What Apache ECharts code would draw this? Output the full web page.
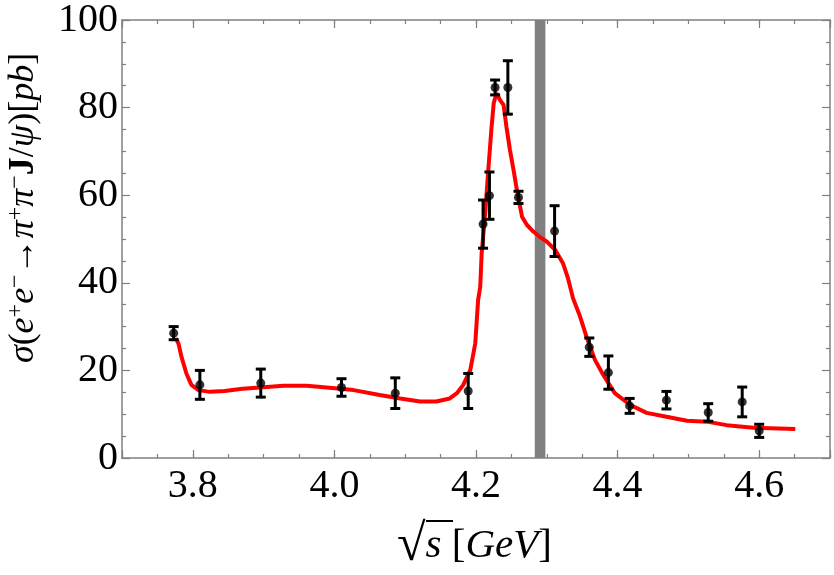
<!DOCTYPE html>
<html>
<head>
<meta charset="utf-8">
<script src="https://cdn.jsdelivr.net/npm/echarts@6/dist/echarts.min.js"></script>
<style>
  html, body { margin: 0; padding: 0; background: #fff; }
  #chart { width: 834px; height: 575px; }
</style>
</head>
<body>
<div id="chart"></div>
<script>
// measured points (sqrt(s) in GeV, sigma in pb, symmetric error)
var energy = [3.773, 3.810, 3.896, 4.010, 4.086, 4.189, 4.210, 4.219, 4.227, 4.245, 4.260, 4.311, 4.360, 4.387, 4.417, 4.469, 4.528, 4.576, 4.600];
var sigma = [28.5, 16.7, 17.1, 16.1, 14.8, 15.3, 53.4, 59.9, 84.6, 84.6, 59.5, 51.8, 25.3, 19.5, 11.9, 13.2, 10.4, 12.8, 6.2];
var sigmaErr = [1.5, 3.3, 3.2, 2.0, 3.5, 4.0, 5.5, 5.4, 1.7, 6.1, 1.4, 5.8, 2.1, 3.8, 1.7, 2.0, 2.0, 3.4, 1.5];

// fit curve
var fitX = [3.776, 3.780, 3.784, 3.791, 3.798, 3.808, 3.824, 3.845, 3.870, 3.895, 3.928, 3.961, 3.989, 4.027, 4.064, 4.093, 4.121, 4.144, 4.163, 4.173, 4.182, 4.192, 4.199, 4.203, 4.206, 4.208, 4.213, 4.217, 4.222, 4.225, 4.229, 4.234, 4.239, 4.243, 4.248, 4.253, 4.257, 4.265, 4.272, 4.281, 4.290, 4.300, 4.312, 4.323, 4.330, 4.337, 4.347, 4.356, 4.368, 4.380, 4.396, 4.418, 4.441, 4.469, 4.498, 4.526, 4.554, 4.592, 4.651];
var fitY = [27.4, 26.0, 23.1, 19.3, 16.7, 15.5, 15.1, 15.3, 15.8, 16.1, 16.5, 16.5, 16.1, 15.5, 14.4, 13.6, 12.9, 12.9, 13.6, 14.8, 16.7, 20.1, 26.2, 36.1, 39.1, 46.7, 55.9, 65.0, 75.6, 81.0, 83.3, 81.7, 80.6, 75.6, 70.3, 65.8, 61.9, 55.1, 53.2, 51.7, 50.5, 49.4, 47.5, 44.4, 41.0, 36.5, 32.3, 27.7, 22.4, 18.9, 14.8, 12.1, 10.3, 9.4, 8.5, 8.3, 7.5, 6.9, 6.6];

// gray vertical band
var band = [4.283, 4.298];

var xRange = [3.7, 4.7];
var yTicks = [0, 20, 40, 60, 80, 100];

var chart = echarts.init(document.getElementById('chart'));

var serif = 'Liberation Serif';
var gray = '#808080';

var pts = energy.map(function (e, i) { return [e, sigma[i]]; });
var bars = energy.map(function (e, i) { return [e, sigma[i] - sigmaErr[i], sigma[i] + sigmaErr[i]]; });
var curve = fitX.map(function (x, i) { return [x, fitY[i]]; });

function xAxisCfg(pos, major, labels) {
    return {
        type: 'value',
        position: pos,
        min: xRange[0],
        max: xRange[1],
        interval: major ? undefined : 0.05,
        splitNumber: 5,
        axisLine: { show: major, lineStyle: { color: gray, width: 1.5 } },
        axisTick: { show: true, inside: true, length: major ? 8 : 4, lineStyle: { color: gray, width: 1.2 } },
        axisLabel: {
            show: labels,
            fontFamily: serif,
            fontSize: 40,
            color: '#000',
            margin: 8,
            formatter: function (v) {
                if (Math.abs(v - xRange[0]) < 1e-6 || Math.abs(v - xRange[1]) < 1e-6) return '';
                return v.toFixed(1);
            }
        },
        splitLine: { show: false }
    };
}

function yAxisCfg(pos, labels) {
    return {
        type: 'value',
        position: pos,
        min: yTicks[0],
        max: yTicks[yTicks.length - 1],
        interval: 20,
        axisLine: { show: true, lineStyle: { color: gray, width: 1.5 } },
        axisTick: { show: true, inside: true, length: 8, lineStyle: { color: gray, width: 1.2 } },
        minorTick: { show: true, splitNumber: 4, length: 4, lineStyle: { color: gray, width: 1.2 } },
        axisLabel: { show: labels, fontFamily: serif, fontSize: 40, color: '#000', margin: 4 },
        splitLine: { show: false },
        minorSplitLine: { show: false }
    };
}

var option = {
    backgroundColor: '#fff',
    animation: false,
    grid: { left: 122, right: 4, top: 20, bottom: 117, containLabel: false },
    xAxis: [
        xAxisCfg('bottom', true, true),
        xAxisCfg('bottom', false, false),
        xAxisCfg('top', true, false),
        xAxisCfg('top', false, false)
    ],
    yAxis: [yAxisCfg('left', true), yAxisCfg('right', false)],
    series: [{
        type: 'line',
        data: curve,
        showSymbol: false,
        lineStyle: { color: '#ff0000', width: 4 },
        z: 2
    }, {
        type: 'custom',
        data: bars,
        z: 3,
        renderItem: function (params, api) {
            var x = api.value(0);
            var lo = api.coord([x, api.value(1)]);
            var hi = api.coord([x, api.value(2)]);
            var w = 5;
            var st = { stroke: '#000', lineWidth: 3 };
            return {
                type: 'group',
                children: [
                    { type: 'line', shape: { x1: lo[0], y1: lo[1], x2: hi[0], y2: hi[1] }, style: st },
                    { type: 'line', shape: { x1: lo[0] - w, y1: lo[1], x2: lo[0] + w, y2: lo[1] }, style: st },
                    { type: 'line', shape: { x1: hi[0] - w, y1: hi[1], x2: hi[0] + w, y2: hi[1] }, style: st }
                ]
            };
        },
        markArea: {
            silent: true,
            itemStyle: { color: gray, opacity: 1 },
            data: [[{ xAxis: band[0], yAxis: 0 }, { xAxis: band[1], yAxis: 100 }]]
        }
    }, {
        type: 'scatter',
        data: pts,
        symbol: 'circle',
        symbolSize: 9,
        itemStyle: { color: '#000' },
        z: 4
    }],
    graphic: [{
        type: 'text',
        x: 24,
        y: 208,
        rotation: Math.PI / 2,
        style: {
            text: '{it|σ}{n|(}{it|e}{sup|+}{it|e}{sup|−}{n|→}{it|π}{sup|+}{it|π}{sup|−}{b|J}{n|/}{it|ψ}{n|)[}{it|pb}{n|]}',
            align: 'center',
            verticalAlign: 'middle',
            fill: '#000',
            rich: {
                n: { fontFamily: serif, fontSize: 36, lineHeight: 41, fill: '#000' },
                it: { fontFamily: serif, fontSize: 36, fontStyle: 'italic', lineHeight: 41, fill: '#000' },
                b: { fontFamily: serif, fontSize: 36, fontWeight: 'bold', lineHeight: 41, fill: '#000' },
                sup: { fontFamily: serif, fontSize: 24, lineHeight: 24, verticalAlign: 'top', fill: '#000' }
            }
        }
    }, {
        type: 'text',
        x: 397,
        y: 546,
        style: {
            text: '{r|√}{it|s}{n| [}{it|GeV}{n|]}',
            align: 'left',
            verticalAlign: 'middle',
            rich: {
                r: { fontFamily: serif, fontSize: 52, fill: '#000' },
                n: { fontFamily: serif, fontSize: 41, fill: '#000' },
                it: { fontFamily: serif, fontSize: 41, fontStyle: 'italic', fill: '#000' }
            }
        }
    }, {
        type: 'line',
        shape: { x1: 426, y1: 521, x2: 453, y2: 521 },
        style: { stroke: '#000', lineWidth: 2 }
    }]
};

chart.setOption(option);
</script>
</body>
</html>
